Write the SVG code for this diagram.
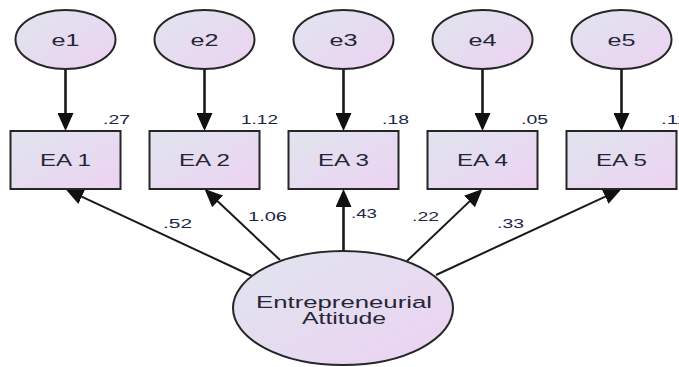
<svg xmlns="http://www.w3.org/2000/svg" width="679" height="367" viewBox="0 0 679 367">
<style>
.node{fill:url(#g);stroke:#262626;stroke-width:2}
.lbl{font-family:"Liberation Sans",Arial,sans-serif;fill:#262636;text-anchor:start}
.num{font-family:"Liberation Sans",Arial,sans-serif;fill:#1c2545;font-size:12.5px}
.c{stroke:#1a1a1a;fill:none}
.v{stroke-width:2.6}
.d{stroke-width:2}
</style>
<defs>
<linearGradient id="g" x1="0" y1="0" x2="1" y2="1">
<stop offset="0" stop-color="#dfe5ee"/>
<stop offset="1" stop-color="#edd2f2"/>
</linearGradient>
<marker id="ah" markerUnits="userSpaceOnUse" markerWidth="18" markerHeight="16" viewBox="0 0 18 16" refX="15" refY="8" orient="auto">
<path d="M0,0 L18,8 L0,16 z" fill="#111"/>
</marker>
</defs>
<rect width="679" height="367" fill="#fff"/>
<g id="connectors">
<line class="c v" x1="65.5" y1="69" x2="65.5" y2="128" marker-end="url(#ah)"/>
<line class="c v" x1="204.5" y1="69" x2="204.5" y2="128" marker-end="url(#ah)"/>
<line class="c v" x1="343.5" y1="69" x2="343.5" y2="128" marker-end="url(#ah)"/>
<line class="c v" x1="482.5" y1="69" x2="482.5" y2="128" marker-end="url(#ah)"/>
<line class="c v" x1="621.5" y1="69" x2="621.5" y2="128" marker-end="url(#ah)"/>
<line class="c d" x1="252" y1="276" x2="68.2" y2="190.3" marker-end="url(#ah)"/>
<line class="c d" x1="280" y1="260" x2="206.7" y2="191.1" marker-end="url(#ah)"/>
<line class="c v" x1="343.5" y1="252" x2="343.5" y2="192" marker-end="url(#ah)"/>
<line class="c d" x1="407" y1="261" x2="480.3" y2="191.1" marker-end="url(#ah)"/>
<line class="c d" x1="436" y1="275" x2="618.8" y2="190.3" marker-end="url(#ah)"/>
<text class="num" x="163" y="228" textLength="29" lengthAdjust="spacingAndGlyphs">.52</text>
<text class="num" x="248" y="221" textLength="39" lengthAdjust="spacingAndGlyphs">1.06</text>
<text class="num" x="351" y="218" textLength="26" lengthAdjust="spacingAndGlyphs">.43</text>
<text class="num" x="412" y="221" textLength="27" lengthAdjust="spacingAndGlyphs">.22</text>
<text class="num" x="497" y="228" textLength="27" lengthAdjust="spacingAndGlyphs">.33</text>
</g>
<g id="e1"><ellipse class="node" cx="65.5" cy="39.5" rx="50" ry="29.5"/><text class="lbl" x="51.5" y="46" font-size="16" textLength="28" lengthAdjust="spacingAndGlyphs">e1</text></g>
<g id="e2"><ellipse class="node" cx="204.5" cy="39.5" rx="50" ry="29.5"/><text class="lbl" x="190.5" y="46" font-size="16" textLength="28" lengthAdjust="spacingAndGlyphs">e2</text></g>
<g id="e3"><ellipse class="node" cx="343.5" cy="39.5" rx="50" ry="29.5"/><text class="lbl" x="329.5" y="46" font-size="16" textLength="28" lengthAdjust="spacingAndGlyphs">e3</text></g>
<g id="e4"><ellipse class="node" cx="482.5" cy="39.5" rx="50" ry="29.5"/><text class="lbl" x="468.5" y="46" font-size="16" textLength="28" lengthAdjust="spacingAndGlyphs">e4</text></g>
<g id="e5"><ellipse class="node" cx="621.5" cy="39.5" rx="50" ry="29.5"/><text class="lbl" x="607.5" y="46" font-size="16" textLength="28" lengthAdjust="spacingAndGlyphs">e5</text></g>
<g id="EA1"><rect class="node" x="10.5" y="131" width="110" height="58"/><text class="lbl" x="40" y="166" font-size="17" textLength="51" lengthAdjust="spacingAndGlyphs">EA 1</text><text class="num" x="103" y="124" textLength="27" lengthAdjust="spacingAndGlyphs">.27</text></g>
<g id="EA2"><rect class="node" x="149.5" y="131" width="110" height="58"/><text class="lbl" x="179" y="166" font-size="17" textLength="51" lengthAdjust="spacingAndGlyphs">EA 2</text><text class="num" x="241" y="124" textLength="37" lengthAdjust="spacingAndGlyphs">1.12</text></g>
<g id="EA3"><rect class="node" x="288.5" y="131" width="110" height="58"/><text class="lbl" x="318" y="166" font-size="17" textLength="51" lengthAdjust="spacingAndGlyphs">EA 3</text><text class="num" x="382" y="124" textLength="27" lengthAdjust="spacingAndGlyphs">.18</text></g>
<g id="EA4"><rect class="node" x="427.5" y="131" width="110" height="58"/><text class="lbl" x="457" y="166" font-size="17" textLength="51" lengthAdjust="spacingAndGlyphs">EA 4</text><text class="num" x="521" y="124" textLength="27" lengthAdjust="spacingAndGlyphs">.05</text></g>
<g id="EA5"><rect class="node" x="566.5" y="131" width="110" height="58"/><text class="lbl" x="596" y="166" font-size="17" textLength="51" lengthAdjust="spacingAndGlyphs">EA 5</text><text class="num" x="661" y="124" textLength="27" lengthAdjust="spacingAndGlyphs">.11</text></g>
<g id="EntrepreneurialAttitude"><ellipse class="node" cx="343" cy="308" rx="110" ry="57"/><text class="lbl" x="256" y="308" font-size="16" textLength="176" lengthAdjust="spacingAndGlyphs">Entrepreneurial</text><text class="lbl" x="302" y="324" font-size="16" textLength="84" lengthAdjust="spacingAndGlyphs">Attitude</text></g>
</svg>
